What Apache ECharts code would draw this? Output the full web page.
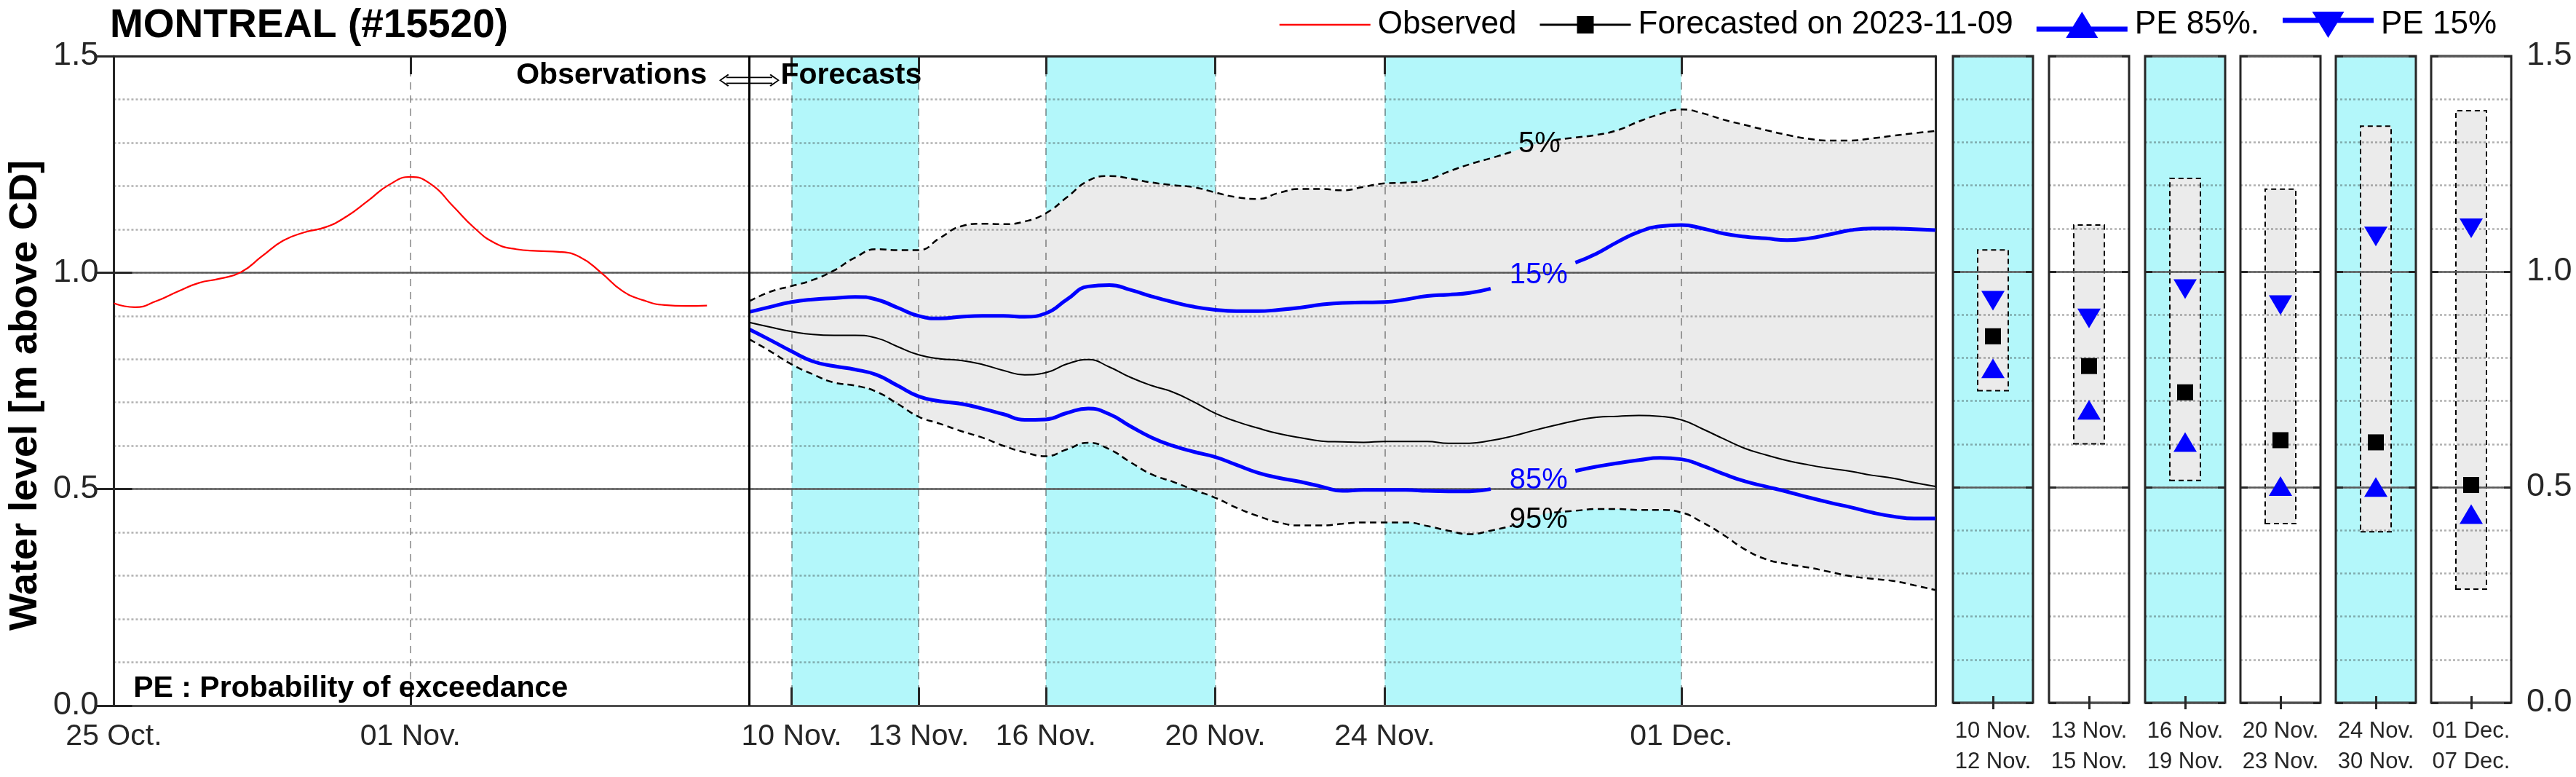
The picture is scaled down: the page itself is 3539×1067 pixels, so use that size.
<!DOCTYPE html>
<html><head><meta charset="utf-8">
<style>html,body{margin:0;padding:0;background:#fff}#c{width:3539px;height:1067px}</style>
<script src="https://cdn.jsdelivr.net/npm/echarts@6/dist/echarts.min.js"></script>
</head><body><div id="c"></div>
<script>
// ---------- DATA (x = days since 25 Oct 2023 00:00) ----------
const obsDays = [0,0.5,1,1.5,2,2.5,3,3.5,4,4.5,5,5.5,6,6.5,7,7.5,8,8.5,9,9.5,10,10.5,11,11.5,12,12.5,13,13.5,14];
const observed = [0.929,0.920,0.934,0.956,0.976,0.986,1.001,1.038,1.074,1.093,1.105,1.130,1.166,1.203,1.221,1.203,1.154,1.104,1.068,1.054,1.050,1.048,1.036,1.000,0.958,0.936,0.925,0.923,0.924];

const fcDays = [15,15.5,16,16.5,17,17.5,18,18.5,19,19.5,20,20.5,21,21.5,22,22.5,23,23.5,24,24.5,25,25.5,26,26.5,27,27.5,28,28.5,29,29.5,30,30.5,31,31.5,32,32.5,33,33.5,34,34.5,35,35.5,36,36.5,37,37.5,38,38.5,39,39.5,40,40.5,41,41.5,42,42.5,43];
const p5 = [0.934,0.956,0.969,0.983,1.005,1.035,1.054,1.052,1.052,1.080,
  1.107,1.113,1.112,1.118,1.137,1.174,1.212,1.223,1.217,1.208,
  1.202,1.197,1.185,1.174,1.170,1.184,1.193,1.193,1.190,1.198,
  1.206,1.208,1.214,1.233,1.250,1.264,1.279,1.295,1.306,1.312,
  1.318,1.329,1.349,1.366,1.377,1.368,1.353,1.341,1.329,1.318,
  1.309,1.305,1.305,1.310,1.316,1.322,1.327];
const p15 = [0.909,0.921,0.932,0.938,0.941,0.944,0.938,0.919,0.900,0.894,
  0.898,0.900,0.900,0.898,0.906,0.938,0.968,0.971,0.960,0.945,
  0.932,0.921,0.914,0.911,0.911,0.914,0.919,0.926,0.930,0.931,
  0.932,0.938,0.946,0.949,0.953,0.963,0.975,0.993,1.010,1.023,
  1.044,1.071,1.094,1.107,1.110,1.102,1.090,1.083,1.079,1.075,
  1.079,1.088,1.098,1.102,1.102,1.100,1.098];
const median = [0.885,0.874,0.864,0.857,0.855,0.855,0.849,0.829,0.810,0.801,
  0.797,0.788,0.774,0.764,0.769,0.789,0.799,0.782,0.758,0.739,
  0.724,0.701,0.675,0.656,0.641,0.628,0.619,0.611,0.609,0.608,
  0.610,0.610,0.610,0.606,0.606,0.612,0.622,0.635,0.647,0.658,
  0.666,0.668,0.670,0.668,0.660,0.639,0.616,0.594,0.579,0.566,
  0.556,0.548,0.541,0.532,0.525,0.515,0.506];
const p85 = [0.869,0.844,0.818,0.795,0.784,0.776,0.764,0.739,0.714,0.703,
  0.697,0.686,0.673,0.660,0.661,0.676,0.686,0.673,0.645,0.619,
  0.600,0.586,0.574,0.556,0.538,0.526,0.517,0.506,0.496,0.498,
  0.498,0.498,0.496,0.495,0.495,0.500,0.508,0.520,0.533,0.542,
  0.552,0.560,0.567,0.572,0.569,0.554,0.535,0.518,0.506,0.494,
  0.481,0.469,0.458,0.446,0.437,0.432,0.432];
const p95 = [0.846,0.818,0.788,0.765,0.746,0.739,0.725,0.697,0.667,0.651,
  0.634,0.619,0.600,0.585,0.576,0.592,0.607,0.592,0.562,0.534,
  0.517,0.498,0.480,0.457,0.438,0.423,0.416,0.416,0.420,0.423,
  0.423,0.423,0.415,0.404,0.396,0.404,0.415,0.435,0.446,0.450,
  0.454,0.454,0.452,0.452,0.446,0.423,0.394,0.361,0.338,0.327,
  0.319,0.309,0.299,0.293,0.288,0.278,0.267];

// days where a curve is interrupted by its inline label
const gap5 = [33.5], gap15 = [33,33.5,34], gap85 = [33,33.5,34], gap95 = [33.5];
const curveLabels = [
  {text:'5%',  x:33.65, y:1.297, color:'#000'},
  {text:'15%', x:33.63, y:0.994, color:'#0000ff'},
  {text:'85%', x:33.63, y:0.520, color:'#0000ff'},
  {text:'95%', x:33.63, y:0.429, color:'#000'}
];

const xTickDays = [0, 7, 16, 19, 22, 26, 30, 37];
const xTickLabels = ['25 Oct.', '01 Nov.', '10 Nov.', '13 Nov.', '16 Nov.', '20 Nov.', '24 Nov.', '01 Dec.'];
const bands = [[16,19],[22,26],[30,37]];
const separatorDay = 15;

const panelStart = ['10 Nov.', '13 Nov.', '16 Nov.', '20 Nov.', '24 Nov.', '01 Dec.'];
const panelEnd   = ['12 Nov.', '15 Nov.', '19 Nov.', '23 Nov.', '30 Nov.', '07 Dec.'];
const panelShaded = [true, false, true, false, true, false];
const panelBoxLow  = [0.722, 0.599, 0.514, 0.414, 0.395, 0.262];
const panelBoxHigh = [1.052, 1.110, 1.218, 1.193, 1.339, 1.375];
const panelForecast = [0.850, 0.781, 0.720, 0.609, 0.604, 0.505];
const panelPE85 = [0.768, 0.672, 0.597, 0.495, 0.493, 0.430];
const panelPE15 = [0.940, 0.899, 0.967, 0.930, 1.089, 1.108];

// ---------- STYLE ----------
const FONT = 'Liberation Sans';
const AX = '#262626';
const CYAN = '#b3f7fa';
const BLUE = '#0000ff';
const FILL = '#ebebeb';
const gridV = {show:true, lineStyle:{color:'rgba(38,38,38,0.42)', width:2, type:[10,8]}};
const gridH = {show:true, lineStyle:{color:'rgba(38,38,38,0.36)', width:2.5, type:[3,3]}};
const major = {show:true, lineStyle:{color:'#5a5a5a', width:2.5}};
const tickStyle = {color:AX, width:3};
const ARROW = 'path://M10,3.6H73V5.4H10Z M10,11.6H73V13.4H10Z M12,0L13.6,1.2L3,8.5L13.6,15.8L12,17L0,8.5Z M71,0L83,8.5L71,17L69.4,15.8L80,8.5L69.4,1.2Z';

const pair = (xs, ys) => xs.map((x,i) => [x, ys[i]]);
const gapped = (xs, ys, g) => xs.map((x,i) => [x, g.includes(x) ? null : ys[i]]);
const xLabel = v => { const i = xTickDays.indexOf(v); return i >= 0 ? xTickLabels[i] : ''; };

// half-day slots of the whole main plot (for the stacked 5%-95% envelope)
const slots = obsDays.concat([14.5], fcDays);
const onSlots = ys => slots.map(s => { const i = fcDays.indexOf(s); return i >= 0 ? ys[i] : '-'; });
const envLow = onSlots(p95);
const envSpan = onSlots(p5.map((v,i) => v - p95[i]));

const grids = [{left:151, top:77, width:2508, height:892, show:false}];
const panelLefts = [2683, 2815, 2947, 3078, 3209, 3340];
panelLefts.forEach((l,i) => grids.push({left:l, top:77, width:110, height:892, show:true,
  backgroundColor: panelShaded[i] ? CYAN : '#ffffff', borderColor:AX, borderWidth:3}));

const xAxes = [
  {gridIndex:0, type:'value', min:0, max:43, interval:1, position:'bottom', z:3,
   axisLine:{show:true, onZero:false, lineStyle:{color:AX, width:3}},
   axisTick:{show:true, inside:true, length:25, customValues:xTickDays, lineStyle:tickStyle},
   axisLabel:{show:true, customValues:xTickDays, formatter:xLabel, fontSize:41, color:AX, margin:22, fontFamily:FONT},
   splitLine:gridV},
  {gridIndex:0, type:'value', min:0, max:43, interval:1, position:'top', z:4,
   axisLine:{show:true, onZero:false, lineStyle:{color:AX, width:3}},
   axisTick:{show:true, inside:true, length:25, customValues:xTickDays, lineStyle:tickStyle},
   axisLabel:{show:false}, splitLine:{show:false}},
  {gridIndex:0, type:'category', data:slots.map(String), boundaryGap:false, show:false, position:'bottom'}
];
const yAxes = [
  {gridIndex:0, type:'value', min:0, max:1.5, interval:0.5, position:'left', z:4,
   axisLine:{show:true, onZero:false, lineStyle:{color:AX, width:3}},
   axisTick:{show:true, inside:true, length:25, lineStyle:tickStyle},
   axisLabel:{show:true, formatter:v => v.toFixed(1), fontSize:45, color:AX, margin:21, fontFamily:FONT},
   splitLine:major,
   name:'Water level [m above CD]', nameLocation:'middle', nameGap:93,
   nameTextStyle:{fontSize:54, fontWeight:'bold', color:'#000', fontFamily:FONT, padding:[0,40,0,0]}},
  {gridIndex:0, type:'value', min:0, max:1.5, interval:0.1, position:'right', z:3,
   axisLine:{show:true, onZero:false, lineStyle:{color:AX, width:3}},
   axisTick:{show:false}, axisLabel:{show:false}, splitLine:gridH},
  {gridIndex:0, type:'value', min:0, max:1.5, interval:0.5, position:'right', z:4,
   axisLine:{show:false}, axisTick:{show:true, inside:true, length:25, lineStyle:tickStyle},
   axisLabel:{show:false}, splitLine:{show:false}}
];

const series = [
  // cyan day bands
  {type:'line', data:[], silent:true, z:1,
   markArea:{silent:true, z:1, itemStyle:{color:CYAN}, data: bands.map(b => [{xAxis:b[0]}, {xAxis:b[1]}])}},
  // 5%-95% envelope (stacked on the hidden half-day category axis)
  {type:'line', name:'envLow', xAxisIndex:2, yAxisIndex:0, data:envLow, stack:'env', smooth:0.5, symbol:'none', silent:true,
   lineStyle:{opacity:0}, z:2},
  {type:'line', name:'envSpan', xAxisIndex:2, yAxisIndex:0, data:envSpan, stack:'env', smooth:0.5, symbol:'none', silent:true,
   lineStyle:{opacity:0}, areaStyle:{color:FILL, opacity:1}, z:2},
  {type:'line', name:'Observed', data:pair(obsDays, observed), smooth:0.5, symbol:'none', color:'#ff0000',
   lineStyle:{width:2.2}, z:5,
   markLine:{silent:true, z:6, symbol:['none','none'], label:{show:false},
     lineStyle:{color:'#000', width:3, type:'solid'}, data:[{xAxis:separatorDay}]},
   markPoint:{silent:true, z:8, symbolSize:0, data:[
     {coord:[14.0, 1.455], label:{show:true, position:'left', distance:0, formatter:'Observations', fontSize:41, fontWeight:'bold', color:'#000', fontFamily:FONT}},
     {coord:[separatorDay, 1.444], symbol:ARROW, symbolSize:[83,17], symbolKeepAspect:false, itemStyle:{color:'#000'}, label:{show:false}},
     {coord:[15.74, 1.455], label:{show:true, position:'right', distance:0, formatter:'Forecasts', fontSize:41, fontWeight:'bold', color:'#000', fontFamily:FONT}},
     {coord:[0.46, 0.04], label:{show:true, position:'right', distance:0, formatter:'PE : Probability of exceedance', fontSize:41, fontWeight:'bold', color:'#000', fontFamily:FONT}}
   ].concat(curveLabels.map(c => ({coord:[c.x, c.y], label:{show:true, position:'inside', formatter:c.text, fontSize:40, color:c.color, fontFamily:FONT}})))}},
  {type:'line', name:'p5', data:gapped(fcDays, p5, gap5), smooth:0.5, symbol:'none', color:'#000',
   lineStyle:{width:2.5, type:[9,6]}, z:5},
  {type:'line', name:'p95', data:gapped(fcDays, p95, gap95), smooth:0.5, symbol:'none', color:'#000',
   lineStyle:{width:2.5, type:[9,6]}, z:5},
  {type:'line', name:'Forecasted on 2023-11-09', data:pair(fcDays, median), smooth:0.5, symbol:'none', color:'#000',
   lineStyle:{width:2}, z:5},
  {type:'line', name:'PE 15%', data:gapped(fcDays, p15, gap15), smooth:0.5, symbol:'none', color:BLUE,
   lineStyle:{width:5}, z:5},
  {type:'line', name:'PE 85%.', data:gapped(fcDays, p85, gap85), smooth:0.5, symbol:'none', color:BLUE,
   lineStyle:{width:5}, z:5}
];

panelLefts.forEach((l, i) => {
  const g = i + 1;
  const lab = panelStart[i] + '\n' + panelEnd[i];
  const last = i === panelLefts.length - 1;
  const xi = xAxes.length, yi = yAxes.length;
  xAxes.push(
    {gridIndex:g, type:'category', data:[lab], position:'bottom', z:4,
     axisLine:{show:false}, axisTick:{show:true, inside:true, alignWithLabel:true, length:9, lineStyle:tickStyle},
     axisLabel:{show:true, fontSize:31, lineHeight:42, color:AX, margin:18, fontFamily:FONT}, splitLine:{show:false}},
    {gridIndex:g, type:'category', data:[lab], position:'top', z:4,
     axisLine:{show:false}, axisTick:{show:true, inside:true, alignWithLabel:true, length:9, lineStyle:tickStyle},
     axisLabel:{show:false}, splitLine:{show:false}});
  yAxes.push(
    {gridIndex:g, type:'value', min:0, max:1.5, interval:0.5, position:'left', z:4,
     axisLine:{show:false}, axisTick:{show:true, inside:true, length:10, lineStyle:tickStyle},
     axisLabel:{show:false}, splitLine:major},
    {gridIndex:g, type:'value', min:0, max:1.5, interval:0.1, position:'right', z:3,
     axisLine:{show:false}, axisTick:{show:false}, axisLabel:{show:false}, splitLine:gridH},
    {gridIndex:g, type:'value', min:0, max:1.5, interval:0.5, position:'right', z:4,
     axisLine:{show:false}, axisTick:{show:true, inside:true, length:10, lineStyle:tickStyle},
     axisLabel:{show:last, formatter:v => v.toFixed(1), fontSize:45, color:AX, margin:21, fontFamily:FONT},
     splitLine:{show:false}});
  series.push(
    {type:'bar', xAxisIndex:xi, yAxisIndex:yi, stack:'box'+i, data:[panelBoxLow[i]], barWidth:44, silent:true,
     itemStyle:{color:'rgba(0,0,0,0)'}, z:2},
    {type:'bar', xAxisIndex:xi, yAxisIndex:yi, stack:'box'+i, data:[panelBoxHigh[i]-panelBoxLow[i]], barWidth:44, silent:true,
     itemStyle:{color:FILL, borderColor:'#000', borderWidth:2, borderType:[7,5]}, z:2},
    {type:'scatter', name:'Forecasted on 2023-11-09', xAxisIndex:xi, yAxisIndex:yi, data:[panelForecast[i]],
     symbol:'rect', symbolSize:22, itemStyle:{color:'#000', opacity:1}, z:6},
    {type:'scatter', name:'PE 85%.', xAxisIndex:xi, yAxisIndex:yi, data:[panelPE85[i]],
     symbol:'triangle', symbolSize:[32,27], symbolOffset:[0,-4.5], itemStyle:{color:BLUE, opacity:1}, z:6},
    {type:'scatter', name:'PE 15%', xAxisIndex:xi, yAxisIndex:yi, data:[panelPE15[i]],
     symbol:'triangle', symbolRotate:180, symbolSize:[32,27], symbolOffset:[0,4.5], itemStyle:{color:BLUE, opacity:1}, z:6}
  );
});

const option = {
  animation:false,
  backgroundColor:'#ffffff',
  textStyle:{fontFamily:FONT},
  title:{text:'MONTREAL (#15520)', left:151, top:8, padding:0,
    textStyle:{fontSize:55, fontWeight:'bold', color:'#000', fontFamily:FONT}},
  legend:{right:104, top:7, itemWidth:125, itemHeight:40, itemGap:32, selectedMode:false,
    itemStyle:{borderWidth:0, opacity:1}, lineStyle:{width:0},
    textStyle:{fontSize:44, color:'#000', fontFamily:FONT, padding:[0,0,0,5]},
    data:[
      {name:'Observed', icon:'path://M0,0H125V2.5H0Z'},
      {name:'Forecasted on 2023-11-09', icon:'path://M0,10.5H125V13.5H0Z M51,0H74V24H51Z'},
      {name:'PE 85%.', icon:'path://M0,20.5H125V27.5H0Z M40.5,36L62.5,0L84.5,36Z'},
      {name:'PE 15%', icon:'path://M0,8.5H125V15.5H0Z M40.5,0L84.5,0L62.5,36Z'}
    ]},
  grid:grids, xAxis:xAxes, yAxis:yAxes, series:series
};
const chart = echarts.init(document.getElementById('c'), null, {renderer:'canvas'});
chart.setOption(option);
</script></body></html>
